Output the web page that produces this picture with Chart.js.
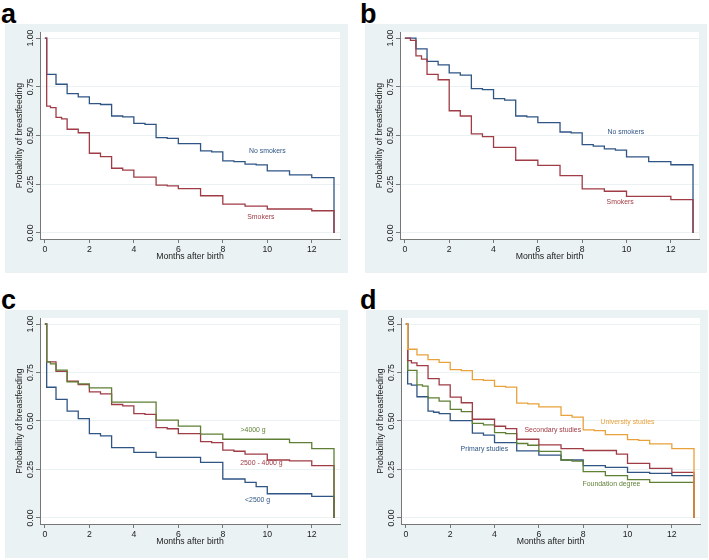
<!DOCTYPE html>
<html>
<head>
<meta charset="utf-8">
<script src="https://cdn.jsdelivr.net/npm/chart.js@4.4.0/dist/chart.umd.min.js"></script>
<style>
  body { margin: 0; background: #fff; width: 709px; height: 560px; position: relative; overflow: hidden; }
  .box { position: absolute; background: #eaf2f3; }
  .box canvas { display: block; }
  .lett { position: absolute; font: bold 27px "Liberation Sans", Arial, sans-serif; color: #000; line-height: 1; }
</style>
</head>
<body>
<div class="lett" style="left:1px;top:1px">a</div>
<div class="lett" style="left:360px;top:1px">b</div>
<div class="lett" style="left:1px;top:287px">c</div>
<div class="lett" style="left:360px;top:287px">d</div>
<div class="box" style="left:5px;top:24px;width:343px;height:249px"><canvas id="pa" width="343" height="249"></canvas></div>
<div class="box" style="left:365px;top:24px;width:342px;height:249px"><canvas id="pb" width="342" height="249"></canvas></div>
<div class="box" style="left:5px;top:310px;width:343px;height:248px"><canvas id="pc" width="343" height="248"></canvas></div>
<div class="box" style="left:366px;top:310px;width:342px;height:248px"><canvas id="pd" width="342" height="248"></canvas></div>
<script>
// tick labels
const xTicks = [0, 2, 4, 6, 8, 10, 12];
const yTicks = [0, 0.25, 0.5, 0.75, 1];
const yTickText = ["0.00", "0.25", "0.50", "0.75", "1.00"];

// a) smoking, first months
const aNoSmkT = [0, 0.08, 0.5, 1, 1.5, 2, 2.5, 3, 3.5, 4, 4.5, 5, 5.5, 6, 7, 7.5, 8, 8.5, 9, 9.5, 10, 11, 12, 13];
const aNoSmkS = [1, 0.814, 0.763, 0.715, 0.698, 0.664, 0.659, 0.600, 0.596, 0.562, 0.557, 0.489, 0.485, 0.458, 0.421, 0.416, 0.370, 0.366, 0.353, 0.349, 0.319, 0.298, 0.284, 0];
const aSmkT = [0, 0.08, 0.25, 0.5, 0.75, 1, 1.5, 2, 2.5, 3, 3.5, 4, 5, 5.5, 6, 7, 8, 9, 10, 12, 13];
const aSmkS = [1, 0.651, 0.643, 0.593, 0.585, 0.532, 0.514, 0.409, 0.392, 0.332, 0.322, 0.286, 0.245, 0.242, 0.227, 0.191, 0.148, 0.138, 0.123, 0.114, 0];

// b) smoking
const bNoSmkT = [0, 0.5, 1, 1.5, 2, 2.5, 3, 3.5, 4, 4.5, 5, 5.5, 6, 7, 7.5, 8, 8.5, 9, 9.5, 10, 11, 12, 13];
const bNoSmkS = [1, 0.944, 0.880, 0.862, 0.821, 0.810, 0.740, 0.735, 0.689, 0.682, 0.600, 0.596, 0.566, 0.518, 0.513, 0.453, 0.446, 0.431, 0.425, 0.390, 0.366, 0.350, 0];
const bSmkT = [0, 0.25, 0.5, 0.75, 1, 1.5, 2, 2.5, 3, 3.5, 4, 5, 6, 7, 8, 9, 10, 12, 13];
const bSmkS = [1, 0.988, 0.909, 0.892, 0.814, 0.786, 0.627, 0.600, 0.508, 0.494, 0.439, 0.373, 0.347, 0.294, 0.226, 0.214, 0.188, 0.171, 0];

// c) birth weight
const cHighT = [0, 0.08, 0.25, 0.5, 1, 1.5, 2, 3, 5, 6, 7, 8, 11, 12, 13];
const cHighS = [1, 0.805, 0.795, 0.762, 0.702, 0.691, 0.671, 0.597, 0.505, 0.474, 0.432, 0.406, 0.389, 0.358, 0];
const cMidT = [0, 0.08, 0.5, 1, 1.5, 2, 2.5, 3, 3.5, 4, 4.5, 5, 5.5, 6, 7, 7.5, 8, 8.5, 9, 10, 11, 12, 13];
const cMidS = [1, 0.805, 0.756, 0.705, 0.688, 0.650, 0.640, 0.585, 0.578, 0.538, 0.534, 0.466, 0.460, 0.435, 0.394, 0.389, 0.350, 0.344, 0.329, 0.299, 0.294, 0.270, 0];
const cLowT = [0, 0.08, 0.5, 1, 1.5, 2, 2.5, 3, 4, 5, 7, 8, 9, 9.5, 10, 12, 13];
const cLowS = [1, 0.674, 0.611, 0.551, 0.512, 0.435, 0.423, 0.363, 0.338, 0.312, 0.287, 0.201, 0.184, 0.162, 0.125, 0.111, 0];

// d) education
const dUniT = [0, 0.08, 0.5, 1, 1.5, 2, 2.5, 3, 3.5, 4, 4.5, 5, 5.5, 6, 7, 7.5, 8, 8.5, 9, 10, 10.5, 11, 12, 13];
const dUniS = [1, 0.870, 0.841, 0.816, 0.802, 0.765, 0.760, 0.713, 0.709, 0.679, 0.675, 0.592, 0.588, 0.573, 0.529, 0.520, 0.454, 0.450, 0.430, 0.404, 0.400, 0.382, 0.358, 0];
const dSecT = [0, 0.08, 0.25, 0.5, 1, 1.5, 2, 2.5, 3, 4, 4.5, 5, 6, 7, 8, 9.5, 10, 11, 12, 13];
const dSecS = [1, 0.811, 0.800, 0.785, 0.718, 0.686, 0.623, 0.594, 0.509, 0.473, 0.461, 0.406, 0.377, 0.358, 0.348, 0.329, 0.282, 0.256, 0.235, 0];
const dFndT = [0, 0.08, 0.5, 0.75, 1, 1.5, 2, 2.5, 3, 3.5, 4, 4.5, 5, 5.5, 6, 7, 7.5, 8, 9, 10, 11, 13];
const dFndS = [1, 0.761, 0.686, 0.680, 0.619, 0.602, 0.560, 0.548, 0.488, 0.480, 0.440, 0.435, 0.384, 0.375, 0.343, 0.299, 0.293, 0.239, 0.218, 0.198, 0.184, 0];
const dPriT = [0, 0.08, 0.25, 0.5, 1, 1.25, 1.5, 2, 3, 3.5, 4, 5, 6, 7, 8, 9, 10, 11, 12, 13];
const dPriS = [1, 0.691, 0.685, 0.625, 0.551, 0.545, 0.538, 0.502, 0.437, 0.427, 0.389, 0.346, 0.324, 0.299, 0.270, 0.261, 0.235, 0.230, 0.218, 0];

const NAVY = "#2f5585", MAROON = "#a03c45", GREEN = "#5f7f35", ORANGE = "#e9a13b";
const FONT = '"Liberation Sans", Arial, sans-serif';

function pts(t, s) {
  return t.map((x, i) => ({ x: x, y: s[i] }));
}

function line(label, t, s, color) {
  return {
    label: label,
    data: pts(t, s),
    borderColor: color,
    borderWidth: 1.3,
    pointRadius: 0,
    stepped: true,
    fill: false,
  };
}

// draws the rotated y labels, axis titles and curve names
const textPlugin = {
  id: "stataText",
  afterDraw(chart) {
    const ctx = chart.ctx;
    const ca = chart.chartArea;
    const xs = chart.scales.x, ys = chart.scales.y;
    ctx.save();
    ctx.fillStyle = "#222";
    ctx.font = "8.7px " + FONT;
    ctx.textAlign = "center";
    ctx.textBaseline = "middle";
    yTicks.forEach((v, i) => {
      ctx.save();
      ctx.translate(ca.left - 9, ys.getPixelForValue(v));
      ctx.rotate(-Math.PI / 2);
      ctx.fillText(yTickText[i], 0, 0);
      ctx.restore();
    });
    ctx.save();
    ctx.translate(ca.left - 20, (ca.top + ca.bottom) / 2);
    ctx.rotate(-Math.PI / 2);
    ctx.fillText("Probability of breastfeeding", 0, 0);
    ctx.restore();
    ctx.textBaseline = "alphabetic";
    ctx.fillText("Months after birth", (ca.left + ca.right) / 2, ca.bottom + 20);

    ctx.font = "6.9px " + FONT;
    ctx.textAlign = "left";
    ctx.textBaseline = "middle";
    (chart.options.plugins.stataText.notes || []).forEach((n) => {
      ctx.fillStyle = n.color;
      ctx.fillText(n.text, xs.getPixelForValue(n.x), ys.getPixelForValue(n.y));
    });
    ctx.restore();
  },
};

const whiteBg = {
  id: "whiteBg",
  beforeDraw(chart) {
    const ca = chart.chartArea;
    chart.ctx.save();
    chart.ctx.fillStyle = "#fff";
    chart.ctx.fillRect(ca.left, ca.top, ca.right - ca.left, ca.bottom - ca.top);
    chart.ctx.restore();
  },
};

function panel(id, datasets, notes) {
  new Chart(document.getElementById(id), {
    type: "line",
    data: { datasets: datasets },
    plugins: [whiteBg, textPlugin],
    options: {
      responsive: false,
      animation: false,
      layout: { padding: { left: 0, right: 8, top: 8, bottom: 0 } },
      plugins: {
        legend: { display: false },
        tooltip: { enabled: false },
        stataText: { notes: notes },
      },
      scales: {
        x: {
          type: "linear",
          min: -0.22,
          max: 13.27,
          afterBuildTicks: (s) => { s.ticks = xTicks.map((v) => ({ value: v })); },
          afterFit: (s) => { s.height = 34; },
          grid: { drawOnChartArea: false, drawTicks: true, tickLength: 4, color: "#777" },
          border: { color: "#777", width: 1 },
          ticks: { color: "#222", font: { family: FONT, size: 8.7 }, padding: 1, maxRotation: 0 },
        },
        y: {
          type: "linear",
          min: -0.031,
          max: 1.031,
          afterBuildTicks: (s) => { s.ticks = yTicks.map((v) => ({ value: v })); },
          afterFit: (s) => { s.width = 35; },
          grid: { color: "#eaf2f3", lineWidth: 1, drawTicks: true, tickLength: 4, tickColor: "#777" },
          border: { color: "#777", width: 1 },
          ticks: { display: false },
        },
      },
    },
  });
}

panel("pa",
  [line("Smokers", aSmkT, aSmkS, MAROON), line("No smokers", aNoSmkT, aNoSmkS, NAVY)],
  [{ text: "No smokers", x: 9.18, y: 0.422, color: NAVY },
   { text: "Smokers", x: 9.1, y: 0.08, color: MAROON }]);

panel("pb",
  [line("Smokers", bSmkT, bSmkS, MAROON), line("No smokers", bNoSmkT, bNoSmkS, NAVY)],
  [{ text: "No smokers", x: 9.14, y: 0.52, color: NAVY },
   { text: "Smokers", x: 9.1, y: 0.157, color: MAROON }]);

panel("pc",
  [line(">4000 g", cHighT, cHighS, GREEN), line("2500 - 4000 g", cMidT, cMidS, MAROON), line("<2500 g", cLowT, cLowS, NAVY)],
  [{ text: ">4000 g", x: 8.8, y: 0.454, color: GREEN },
   { text: "2500 - 4000 g", x: 8.78, y: 0.282, color: MAROON },
   { text: "<2500 g", x: 9.0, y: 0.094, color: NAVY }]);

panel("pd",
  [line("University studies", dUniT, dUniS, ORANGE), line("Secondary studies", dSecT, dSecS, MAROON),
   line("Foundation degree", dFndT, dFndS, GREEN), line("Primary studies", dPriT, dPriS, NAVY)],
  [{ text: "University studies", x: 8.78, y: 0.495, color: ORANGE },
   { text: "Secondary studies", x: 5.35, y: 0.452, color: MAROON },
   { text: "Primary studies", x: 2.47, y: 0.355, color: NAVY },
   { text: "Foundation degree", x: 7.97, y: 0.176, color: GREEN }]);
</script>
</body>
</html>
